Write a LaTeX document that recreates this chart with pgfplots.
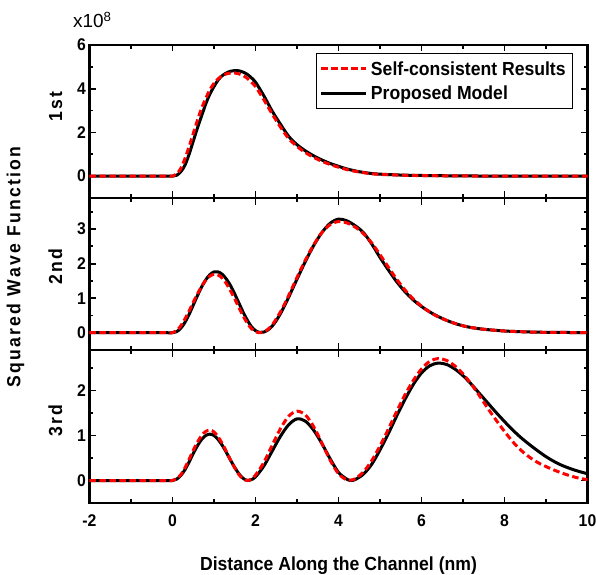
\documentclass[border=0pt]{standalone}
\usepackage{fontspec}
\setmainfont{Liberation Sans}
\newfontfamily\narrowfont{Liberation Sans}[FakeStretch=0.93]
\newfontfamily\spacedfont{Liberation Sans}[FakeStretch=0.93, LetterSpace=12]
\usepackage{pgfplots}
\usepackage{pgfplotstable}
\pgfplotsset{compat=1.18}

% x, self-consistent (r), proposed model (b)
\pgfplotstableread{
x r b
-2 0 0
-1 0 0
-0.2 0 0
0 0 0
0.1 0.1 0.04
0.2 0.35 0.2
0.3 0.8 0.5
0.4 1.35 1.0
0.5 1.95 1.6
0.6 2.55 2.2
0.7 3.1 2.75
0.8 3.55 3.3
0.9 3.95 3.75
1.0 4.25 4.1
1.1 4.45 4.4
1.2 4.6 4.6
1.3 4.68 4.72
1.4 4.72 4.8
1.5 4.72 4.83
1.6 4.68 4.82
1.7 4.6 4.76
1.8 4.48 4.66
1.9 4.3 4.5
2.0 4.1 4.3
2.2 3.5 3.68
2.4 2.85 2.98
2.6 2.25 2.38
2.8 1.72 1.82
3.0 1.36 1.44
3.2 1.08 1.16
3.4 0.86 0.93
3.6 0.68 0.74
3.8 0.53 0.58
4.0 0.41 0.45
4.2 0.3 0.33
4.4 0.22 0.24
4.6 0.16 0.17
4.8 0.11 0.12
5.0 0.08 0.09
5.5 0.045 0.05
6.0 0.025 0.03
7.0 0.008 0.01
8.0 0.002 0.003
10 0 0
}\first

\pgfplotstableread{
x r b
-2 0 0
-1 0 0
-0.2 0 0
0 0 0
0.1 0.06 0.03
0.2 0.2 0.13
0.3 0.4 0.3
0.4 0.63 0.53
0.5 0.88 0.8
0.6 1.12 1.07
0.7 1.34 1.32
0.8 1.52 1.53
0.9 1.64 1.68
1.0 1.69 1.76
1.1 1.67 1.76
1.2 1.58 1.69
1.3 1.42 1.55
1.4 1.21 1.36
1.5 0.98 1.12
1.6 0.73 0.86
1.7 0.49 0.6
1.8 0.28 0.37
1.9 0.12 0.18
2.0 0.03 0.06
2.1 0.0 0.01
2.2 0.02 0.02
2.3 0.1 0.08
2.4 0.22 0.19
2.5 0.4 0.35
2.6 0.6 0.55
2.7 0.83 0.78
2.8 1.08 1.03
2.9 1.34 1.29
3.0 1.6 1.55
3.2 2.1 2.06
3.4 2.54 2.52
3.6 2.9 2.9
3.8 3.13 3.17
4.0 3.22 3.29
4.2 3.18 3.24
4.4 3.06 3.1
4.6 2.87 2.9
4.8 2.6 2.57
5.0 2.26 2.18
5.2 1.9 1.82
5.4 1.55 1.48
5.6 1.24 1.19
5.8 0.98 0.95
6.0 0.77 0.76
6.2 0.6 0.6
6.4 0.46 0.47
6.6 0.36 0.36
6.8 0.27 0.27
7.0 0.2 0.2
7.2 0.15 0.15
7.5 0.1 0.1
8.0 0.05 0.05
8.5 0.025 0.025
9.0 0.012 0.012
10 0.003 0.003
}\second

\pgfplotstableread{
x r b
-2 0 0
-1 0 0
-0.2 0 0
0 0 0
0.1 0.04 0.03
0.2 0.13 0.11
0.3 0.28 0.24
0.4 0.47 0.41
0.5 0.67 0.6
0.6 0.85 0.77
0.7 1.0 0.91
0.8 1.09 1.0
0.9 1.12 1.03
1.0 1.08 1.0
1.1 0.97 0.91
1.2 0.82 0.78
1.3 0.64 0.62
1.4 0.45 0.45
1.5 0.28 0.29
1.6 0.13 0.15
1.7 0.04 0.05
1.8 0.0 0.0
1.9 0.03 0.02
2.0 0.12 0.08
2.2 0.4 0.32
2.4 0.78 0.65
2.6 1.15 0.98
2.8 1.43 1.24
3.0 1.54 1.37
3.2 1.46 1.32
3.4 1.2 1.12
3.6 0.83 0.82
3.8 0.45 0.48
4.0 0.15 0.18
4.2 0.01 0.03
4.3 0.01 0.0
4.4 0.04 0.02
4.6 0.19 0.14
4.8 0.44 0.36
5.0 0.77 0.68
5.2 1.14 1.04
5.4 1.53 1.43
5.6 1.9 1.8
5.8 2.22 2.13
6.0 2.48 2.39
6.2 2.65 2.55
6.4 2.71 2.61
6.6 2.67 2.58
6.8 2.55 2.48
7.0 2.37 2.33
7.2 2.14 2.14
7.4 1.88 1.93
7.6 1.6 1.72
7.8 1.34 1.51
8.0 1.09 1.31
8.2 0.86 1.12
8.4 0.67 0.95
8.6 0.52 0.8
8.8 0.4 0.66
9.0 0.31 0.53
9.2 0.23 0.42
9.4 0.16 0.33
9.6 0.1 0.26
9.8 0.05 0.2
10 0.02 0.15
}\third

\pgfplotsset{
  panel/.style={
    scale only axis, width=498bp,
    xmin=-2, xmax=10,
    xtick={-2,0,...,10}, minor xtick={-1,1,...,9},
    tick align=inside,
    axis line style={line width=2.4bp},
    every tick/.style={black, line width=1.8bp},
    major tick length=6.5bp, minor tick length=4bp,
    tick label style={font=\narrowfont\fontsize{17}{19}\selectfont\bfseries},
    /pgf/number format/assume math mode=true,
    ylabel style={font=\spacedfont\fontsize{19}{21}\selectfont\bfseries},
  },
  model/.style={black, line width=3bp, smooth, no markers},
  scr/.style={red, line width=3bp, dash pattern=on 6.5bp off 3.5bp, smooth, no markers},
}

\begin{document}
\begin{tikzpicture}
% 1st
\begin{axis}[panel, at={(0bp,305bp)}, height=153bp,
    ymin=-1, ymax=6, ytick={0,2,4,6}, minor ytick={1,3,5},
    xticklabels={},
    ylabel={1st}, ylabel style={at={(ticklabel cs:0.595,8bp)}},
    reverse legend,
    legend style={at={(0.971,0.948)}, anchor=north east, draw=black, line width=0.8bp,
      font=\narrowfont\fontsize{19}{21}\selectfont\bfseries, inner xsep=4bp, inner ysep=5bp,
      nodes={inner sep=3bp}, row sep=3bp},
    legend cell align=left,
    legend image code/.code={\draw[#1] (0bp,0bp) -- (45bp,0bp);},
  ]
  \addplot[model] table[x=x, y=b] {\first};
  \addlegendentry{Proposed Model}
  \addplot[scr] table[x=x, y=r] {\first};
  \addlegendentry{Self-consistent Results}
\end{axis}
% 2nd
\begin{axis}[panel, at={(0bp,153bp)}, height=152bp,
    ymin=-0.5, ymax=3.9, ytick={0,1,2,3}, minor ytick={0.5,1.5,2.5,3.5},
    xticklabels={},
    ylabel={2nd}, ylabel style={at={(ticklabel cs:0.546,8bp)}},
  ]
  \addplot[model] table[x=x, y=b] {\second};
  \addplot[scr] table[x=x, y=r] {\second};
\end{axis}
% 3rd
\begin{axis}[panel, at={(0bp,0bp)}, height=153bp,
    ymin=-0.5, ymax=2.9, ytick={0,1,2}, minor ytick={0.5,1.5,2.5},
    ylabel={3rd}, ylabel style={at={(ticklabel cs:0.54,8bp)}},
    xticklabel style={yshift=-8bp},
    xlabel={Distance Along the Channel (nm)},
    xlabel style={font=\narrowfont\fontsize{19}{21}\selectfont\bfseries, at={(rel axis cs:0.5,0)}, anchor=base, yshift=-67bp},
  ]
  \addplot[model] table[x=x, y=b] {\third};
  \addplot[scr] table[x=x, y=r] {\third};
\end{axis}
\node[rotate=90, font=\spacedfont\fontsize{19}{21}\selectfont\bfseries] at (-74bp,236bp) {Squared Wave Function};
\node[anchor=base west, font=\fontsize{19}{21}\selectfont, inner sep=0pt] at (-16.5bp,475bp) {x10\textsuperscript{8}};
\pgfresetboundingbox
\path[use as bounding box] (-89.5bp,-72bp) rectangle (506.5bp,503bp);
\end{tikzpicture}
\end{document}
